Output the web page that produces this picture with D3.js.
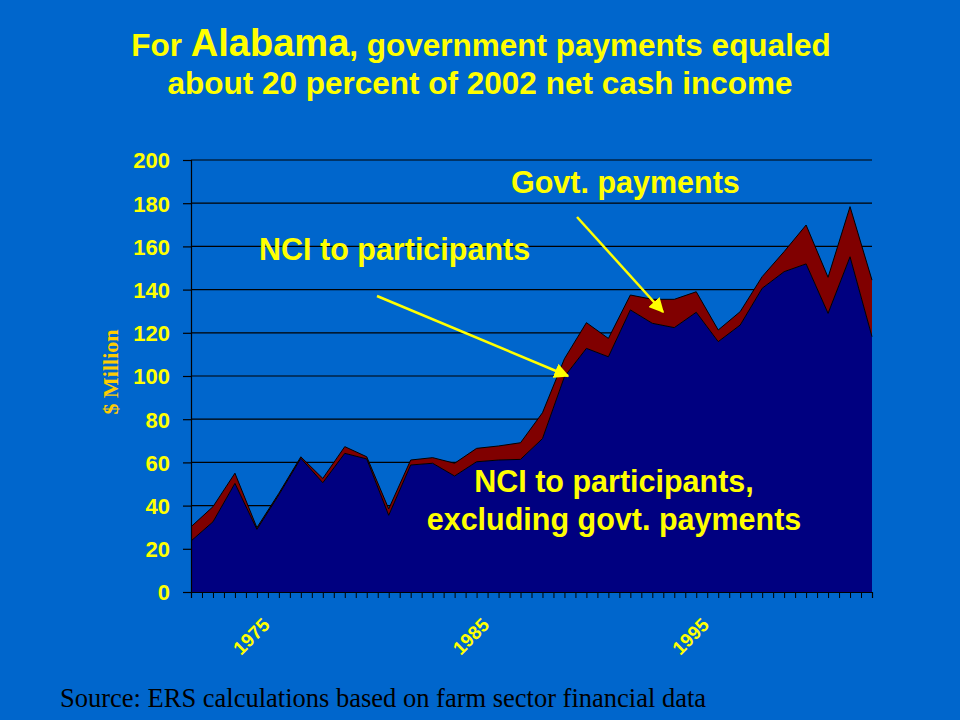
<!DOCTYPE html>
<html>
<head>
<meta charset="utf-8">
<script src="https://cdn.jsdelivr.net/npm/d3@7/dist/d3.min.js"></script>
<style>
  html, body { margin: 0; padding: 0; background: #0066CC; }
  svg { display: block; }
</style>
</head>
<body>
<svg id="chart" width="960" height="720"></svg>
<script>
// ---- Data ----
const years = d3.range(1971, 2003); // 1971..2002
const nciExclGovt = [23.6, 32.5, 50.3, 29.0, 45.0, 61.9, 50.6, 64.2, 61.6, 35.5, 58.8, 59.6, 53.7, 60.3, 61.1, 61.4,
                     71.0, 99.7, 112.8, 108.9, 130.6, 124.4, 122.4, 129.5, 115.9, 123.6, 140.6, 148.3, 151.9, 129.0, 155.2, 118.2];
const govtPayments = [6.6, 7.0, 4.7, 0.8, 0.7, 0.7, 2.0, 3.1, 1.0, 3.0, 2.3, 2.6, 5.9, 6.2, 6.5, 7.7,
                      12.0, 8.3, 11.9, 8.5, 6.9, 11.1, 13.1, 9.5, 5.4, 6.2, 5.4, 9.3, 18.0, 16.7, 23.2, 26.2];
const yTicks = [0, 20, 40, 60, 80, 100, 120, 140, 160, 180, 200];
const xTickLabels = [1975, 1985, 1995];

const table = years.map((y, i) => ({ year: y, base: nciExclGovt[i], govt: govtPayments[i] }));

const svg = d3.select("#chart");
const W = 960, H = 720;
const plot = { left: 191, right: 872, top: 160, bottom: 592 };
const YELLOW = "#FFFF00";

svg.append("rect").attr("width", W).attr("height", H).attr("fill", "#0066CC");

const x = d3.scaleLinear().domain([years[0], years[years.length - 1]]).range([plot.left, plot.right]);
const y = d3.scaleLinear().domain([0, 200]).range([plot.bottom, plot.top]);

// gridlines
svg.append("g").selectAll("line").data(yTicks.filter(d => d > 0)).join("line")
  .attr("x1", plot.left).attr("x2", plot.right)
  .attr("y1", d => y(d)).attr("y2", d => y(d))
  .attr("stroke", "#000").attr("stroke-width", 1.2);

// stacked areas
const stack = d3.stack().keys(["base", "govt"]);
const series = stack(table);
const colors = { base: "#000080", govt: "#800000" };
const area = d3.area().x(d => x(d.data.year)).y0(d => y(d[0])).y1(d => y(d[1]));
const topLine = d3.line().x(d => x(d.data.year)).y(d => y(d[1]));

svg.append("g").selectAll("path.area").data(series).join("path")
  .attr("class", "area")
  .attr("d", area)
  .attr("fill", s => colors[s.key]);
svg.append("g").selectAll("path.edge").data(series).join("path")
  .attr("class", "edge")
  .attr("d", topLine)
  .attr("fill", "none").attr("stroke", "#000").attr("stroke-width", 1);

// y axis
const yAxis = d3.axisLeft(y).tickValues(yTicks).tickSize(8).tickPadding(13).tickFormat(d3.format("d"));
const gy = svg.append("g").attr("transform", `translate(${plot.left},0)`).call(yAxis);
gy.select(".domain").attr("stroke", "#000").attr("stroke-width", 1.2);
gy.selectAll(".tick line").attr("stroke", "#000").attr("stroke-width", 1.2);
gy.selectAll(".tick text")
  .attr("fill", YELLOW).attr("font-family", "Liberation Sans, Arial, sans-serif")
  .attr("font-weight", "bold").attr("font-size", 22).attr("dy", "0.36em");

// x axis: minor ticks every half year, labels every 10 years
const xAxis = d3.axisBottom(x).tickValues(d3.range(years[0], years[years.length - 1] + 0.01, 0.5))
  .tickSize(6).tickFormat("");
const gx = svg.append("g").attr("transform", `translate(0,${plot.bottom})`).call(xAxis);
gx.select(".domain").attr("stroke", "#000").attr("stroke-width", 1.2);
gx.selectAll(".tick line").attr("stroke", "#000").attr("stroke-width", 1);

svg.append("g").selectAll("text").data(xTickLabels).join("text")
  .attr("transform", d => `translate(${x(d) - 8},${plot.bottom + 34}) rotate(-45)`)
  .attr("text-anchor", "end")
  .attr("fill", YELLOW).attr("font-family", "Liberation Sans, Arial, sans-serif")
  .attr("font-weight", "bold").attr("font-size", 19)
  .text(d => d);

// y axis title
svg.append("text")
  .attr("transform", `translate(118,372) rotate(-90)`)
  .attr("text-anchor", "middle")
  .attr("fill", "#FFCC00").attr("font-family", "Liberation Serif, Times New Roman, serif")
  .attr("font-size", 22).attr("font-weight", "bold")
  .text("$ Million");

// title
const title = svg.append("g").attr("font-family", "Liberation Sans, Arial, sans-serif")
  .attr("font-weight", "bold").attr("fill", YELLOW).attr("text-anchor", "middle");
const t1 = title.append("text").attr("x", 481).attr("y", 56).attr("font-size", 31.5);
t1.append("tspan").text("For ");
t1.append("tspan").attr("font-size", 38).text("Alabama");
t1.append("tspan").text(", government payments equaled");
title.append("text").attr("x", 480).attr("y", 94).attr("font-size", 31.5)
  .text("about 20 percent of 2002 net cash income");

// annotations
const ann = svg.append("g").attr("font-family", "Liberation Sans, Arial, sans-serif")
  .attr("font-weight", "bold").attr("fill", YELLOW).attr("font-size", 30.5);
ann.append("text").attr("x", 511).attr("y", 193).text("Govt. payments");
ann.append("text").attr("x", 259).attr("y", 260).text("NCI to participants");
ann.append("text").attr("x", 614).attr("y", 492).attr("text-anchor", "middle").text("NCI to participants,");
ann.append("text").attr("x", 614).attr("y", 530).attr("text-anchor", "middle").text("excluding govt. payments");

// arrows
const defs = svg.append("defs");
defs.append("marker").attr("id", "ah").attr("viewBox", "0 0 10 10")
  .attr("refX", 9).attr("refY", 5).attr("markerWidth", 6).attr("markerHeight", 6)
  .attr("markerUnits", "strokeWidth").attr("orient", "auto")
  .append("path").attr("d", "M0,0 L10,5 L0,10 Z").attr("fill", YELLOW);
const arrows = [
  { x1: 577, y1: 217, x2: 663, y2: 312 },
  { x1: 377, y1: 296, x2: 568, y2: 376 }
];
svg.append("g").selectAll("line").data(arrows).join("line")
  .attr("x1", d => d.x1).attr("y1", d => d.y1).attr("x2", d => d.x2).attr("y2", d => d.y2)
  .attr("stroke", YELLOW).attr("stroke-width", 2.5).attr("marker-end", "url(#ah)");

// source
svg.append("text").attr("x", 60).attr("y", 707)
  .attr("font-family", "Liberation Serif, Times New Roman, serif").attr("font-size", 26.5)
  .attr("fill", "#000").text("Source: ERS calculations based on farm sector financial data");
</script>
</body>
</html>
